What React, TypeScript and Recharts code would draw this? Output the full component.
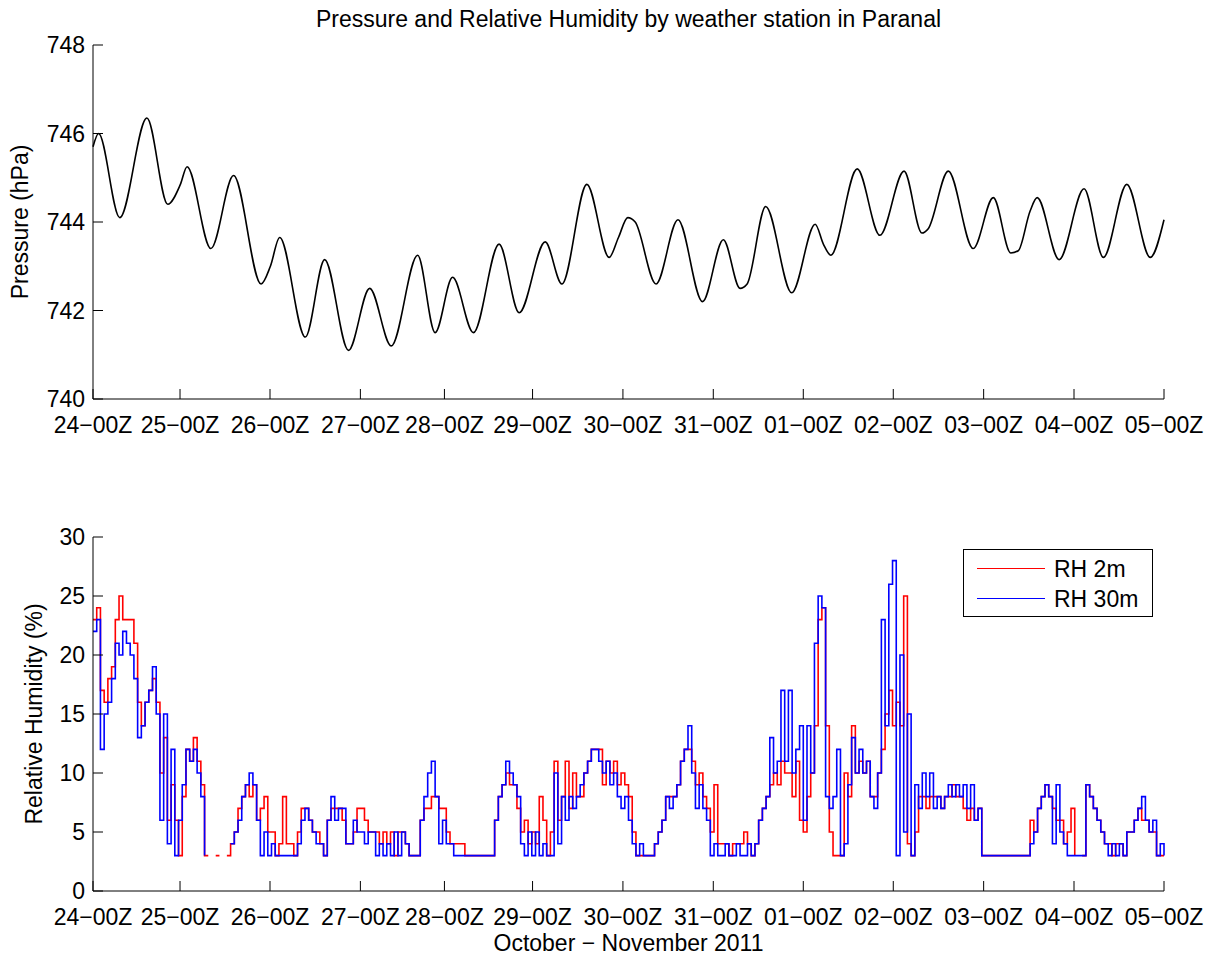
import { LineChart, Line, XAxis, YAxis } from "recharts"

const FONT = '"Liberation Sans", Arial, Helvetica, sans-serif'
const FONT_SIZE = 23

// x runs in record-hours since 24-00Z; day boundaries fall on these records
const dayTickPos = [0, 23.4, 47.6, 71.9, 94.5, 118.2, 142.5, 166.8, 191.0, 215.2, 239.5, 263.8, 288]
const dayLabels = [
    "24\u221200Z", "25\u221200Z", "26\u221200Z", "27\u221200Z", "28\u221200Z", "29\u221200Z",
    "30\u221200Z", "31\u221200Z", "01\u221200Z", "02\u221200Z", "03\u221200Z", "04\u221200Z", "05\u221200Z",
]

const pressureTicks = [740, 742, 744, 746, 748]
const rhTicks = [0, 5, 10, 15, 20, 25, 30]

// station pressure (hPa), diurnal highs and lows
const pressureHours = [
    0, 1.5, 7.2, 14.5, 20.1, 23.5, 25.3, 31.7, 37.8, 45.2, 47.7, 50.2, 57.1, 62.3, 68.7, 74.4,
    80.2, 87.3, 92.0, 96.7, 102.3, 109.2, 114.6, 121.6, 126.1, 132.8, 138.8, 141.3, 143.8, 145.8,
    151.4, 157.3, 163.9, 169.5, 174.0, 175.9, 180.9, 187.9, 194.2, 196.4, 198.4, 205.5, 211.6,
    218.1, 222.9, 224.6, 230.0, 236.7, 242.1, 246.8, 248.8, 252.0, 253.9, 259.8, 266.5, 271.7,
    278.0, 284.3, 288,
]
const pressureHpa = [
    745.7, 746.0, 744.1, 746.35, 744.4, 744.85, 745.25, 743.4, 745.05, 742.6, 743.0, 743.65, 741.4,
    743.15, 741.1, 742.5, 741.2, 743.25, 741.5, 742.75, 741.5, 743.5, 741.95, 743.55, 742.6, 744.85,
    743.2, 743.65, 744.1, 744.0, 742.6, 744.05, 742.2, 743.6, 742.5, 742.6, 744.35, 742.4, 743.95,
    743.5, 743.25, 745.2, 743.7, 745.15, 743.75, 743.85, 745.15, 743.4, 744.55, 743.3, 743.35,
    744.25, 744.55, 743.15, 744.75, 743.2, 744.85, 743.2, 744.05,
]

// hourly relative humidity (%), one row per day
const rh2m = [
    23, 24, 17, 16, 18, 19, 23, 25, 23, 23, 23, 21, 16, 14, 16, 17, 18, 16, 10, 13, 6, 9, 6, 3,
    8, 12, 11, 13, 11, 9, 3, 3, null, 3, 3, null, 3, 4, 5, 7, 8, 9, 8, 9, 6, 7, 8, 5,
    5, 3, 4, 8, 4, 4, 3, 5, 7, 7, 6, 5, 5, 4, 3, 6, 7, 7, 7, 6, 4, 4, 5, 7,
    7, 6, 5, 5, 5, 4, 5, 4, 5, 3, 5, 5, 4, 3, 3, 3, 6, 7, 7, 8, 8, 7, 7, 5,
    4, 4, 4, 4, 3, 3, 3, 3, 3, 3, 3, 3, 6, 8, 9, 10, 9, 9, 7, 5, 6, 4, 5, 4,
    8, 6, 3, 5, 11, 6, 8, 11, 7, 10, 8, 8, 10, 11, 12, 12, 12, 9, 11, 10, 11, 9, 10, 9,
    8, 5, 3, 3, 3, 3, 3, 4, 5, 6, 8, 8, 8, 9, 11, 12, 12, 11, 9, 10, 8, 7, 5, 9,
    4, 4, 4, 3, 4, 4, 4, 5, 4, 3, 4, 6, 7, 8, 9, 10, 9, 11, 10, 10, 8, 11, 6, 5,
    8, 10, 14, 23, 24, 14, 5, 3, 3, 3, 10, 8, 14, 10, 11, 10, 11, 8, 8, 10, 12, 15, 17, 14,
    16, 14, 25, 4, 3, 5, 8, 8, 7, 8, 8, 8, 7, 8, 8, 9, 8, 8, 7, 6, 7, 6, 7, 3,
    3, 3, 3, 3, 3, 3, 3, 3, 3, 3, 3, 3, 6, 5, 7, 8, 9, 8, 7, 6, 6, 4, 5, 7,
    3, null, 3, 9, 8, 7, 6, 5, 4, 4, 3, 4, 4, 3, 5, 5, 6, 7, 6, 6, 5, 5, 3, 3,
    3,
]
const rh30m = [
    22, 23, 12, 15, 16, 18, 21, 20, 22, 21, 20, 18, 13, 14, 16, 17, 19, 15, 6, 15, 4, 12, 3, 6,
    9, 12, 11, 12, 10, 8, 3, null, null, null, null, null, null, 4, 5, 6, 8, 9, 10, 9, 6, 3, 5, 3,
    4, 3, 3, 3, 3, 3, 3, 4, 6, 7, 6, 5, 4, 4, 3, 6, 8, 6, 7, 7, 4, 4, 6, 5,
    5, 4, 5, 5, 3, 4, 3, 4, 3, 5, 3, 5, 4, 3, 3, 3, 6, 8, 10, 11, 8, 4, 6, 4,
    4, 3, 3, 3, 3, 3, 3, 3, 3, 3, 3, 3, 6, 8, 9, 11, 10, 9, 8, 4, 3, 5, 3, 5,
    3, 4, 3, 3, 10, 4, 8, 6, 8, 7, 8, 9, 10, 11, 12, 12, 11, 10, 11, 9, 10, 8, 7, 8,
    6, 4, 3, 4, 3, 3, 3, 4, 5, 6, 8, 7, 8, 9, 11, 12, 14, 10, 7, 9, 7, 6, 3, 4,
    3, 3, 4, 3, 3, 4, 3, 3, 4, 3, 4, 6, 7, 8, 13, 10, 11, 17, 11, 17, 10, 12, 14, 6,
    14, 10, 21, 25, 24, 8, 7, 8, 12, 3, 4, 9, 13, 10, 12, 10, 11, 8, 7, 10, 23, 14, 26, 28,
    3, 20, 5, 15, 3, 9, 7, 10, 8, 10, 7, 8, 7, 8, 9, 8, 9, 8, 9, 7, 9, 6, 7, 3,
    3, 3, 3, 3, 3, 3, 3, 3, 3, 3, 3, 3, 4, 5, 7, 8, 9, 8, 4, 9, 5, 4, 3, 3,
    3, 3, 3, 9, 8, 7, 6, 5, 4, 3, 4, 3, 4, 3, 5, 5, 6, 7, 8, 6, 5, 6, 3, 4,
    3,
]

const pressureData = pressureHours.map((t, i) => ({ t, p: pressureHpa[i] }))
const rhData = rh2m.map((v, i) => ({ t: i, rh2: v, rh30: rh30m[i] }))

const tickStyle = { fontSize: FONT_SIZE, fill: "#000", fontFamily: FONT }
const axisLine = { stroke: "#000", strokeWidth: 1 }
const tickLine = { stroke: "#000", strokeWidth: 1 }

// MATLAB-style boxed axes: inward ticks on all four sides
function boxAxes(domainY: number[], ticksY: number[]) {
    return [
        <XAxis
            key="xb"
            xAxisId="b"
            type="number"
            dataKey="t"
            domain={[0, 288]}
            ticks={dayTickPos}
            interval={0}
            tickFormatter={(_v: number, i: number) => dayLabels[i]}
            height={40}
            tickSize={-10}
            tickMargin={27.5}
            tick={tickStyle}
            axisLine={axisLine}
            tickLine={tickLine}
        />,
        <XAxis
            key="xt"
            xAxisId="t"
            orientation="top"
            type="number"
            dataKey="t"
            domain={[0, 288]}
            ticks={dayTickPos}
            interval={0}
            height={0}
            tickSize={-10}
            tick={false}
            axisLine={axisLine}
            tickLine={tickLine}
        />,
        <YAxis
            key="yl"
            yAxisId="l"
            type="number"
            domain={domainY}
            ticks={ticksY}
            interval={0}
            width={60}
            tickSize={-10}
            tickMargin={18}
            tick={tickStyle}
            axisLine={axisLine}
            tickLine={tickLine}
        />,
        <YAxis
            key="yr"
            yAxisId="r"
            orientation="right"
            type="number"
            domain={domainY}
            ticks={ticksY}
            interval={0}
            width={0}
            tickSize={-10}
            tick={false}
            axisLine={axisLine}
            tickLine={tickLine}
        />,
    ]
}

export default function App() {
    return (
        <div
            style={{
                position: "absolute",
                left: 0,
                top: 0,
                width: 1217,
                height: 956,
                background: "#fff",
                fontFamily: FONT,
            }}
        >
            <div style={{ position: "absolute", left: 0, top: 0 }}>
                <LineChart
                    width={1217}
                    height={450}
                    data={pressureData}
                    margin={{ top: 45, right: 53, bottom: 11, left: 33 }}
                >
                    {boxAxes([740, 748], pressureTicks)}
                    <Line
                        xAxisId="b"
                        yAxisId="l"
                        type="monotone"
                        dataKey="p"
                        stroke="#000"
                        strokeWidth={1.6}
                        dot={false}
                        activeDot={false}
                        isAnimationActive={false}
                    />
                </LineChart>
            </div>

            <div style={{ position: "absolute", left: 0, top: 490 }}>
                <LineChart
                    width={1217}
                    height={450}
                    data={rhData}
                    margin={{ top: 47, right: 53, bottom: 9, left: 33 }}
                >
                    {boxAxes([0, 30], rhTicks)}
                    <Line
                        xAxisId="b"
                        yAxisId="l"
                        type="stepAfter"
                        dataKey="rh2"
                        name="RH 2m"
                        stroke="#ff0000"
                        strokeWidth={1.6}
                        dot={false}
                        activeDot={false}
                        isAnimationActive={false}
                    />
                    <Line
                        xAxisId="b"
                        yAxisId="l"
                        type="stepAfter"
                        dataKey="rh30"
                        name="RH 30m"
                        stroke="#0000ff"
                        strokeWidth={1.6}
                        dot={false}
                        activeDot={false}
                        isAnimationActive={false}
                    />
                </LineChart>
            </div>

            {/* titles, axis labels and legend */}
            <svg
                width={1217}
                height={956}
                style={{ position: "absolute", left: 0, top: 0, pointerEvents: "none" }}
                fontFamily={FONT}
                fontSize={FONT_SIZE}
            >
                <text x={628.5} y={27} textAnchor="middle" fill="#000">
                    Pressure and Relative Humidity by weather station in Paranal
                </text>
                <text transform="translate(28,222) rotate(-90)" textAnchor="middle" fill="#000">
                    Pressure (hPa)
                </text>
                <text transform="translate(42,714) rotate(-90)" textAnchor="middle" fill="#000">
                    Relative Humidity (%)
                </text>
                <text x={628.5} y={950.5} textAnchor="middle" fill="#000">
                    October {"\u2212"} November 2011
                </text>

                <g transform="translate(963,549)">
                    <rect x={0.5} y={0.5} width={189} height={67} fill="#fff" stroke="#000" strokeWidth={1} />
                    <line x1={14} x2={82} y1={19.5} y2={19.5} stroke="#ff0000" strokeWidth={1} />
                    <text x={91} y={28} fill="#000">RH 2m</text>
                    <line x1={14} x2={82} y1={49.5} y2={49.5} stroke="#0000ff" strokeWidth={1} />
                    <text x={91} y={58} fill="#000">RH 30m</text>
                </g>
            </svg>
        </div>
    )
}
